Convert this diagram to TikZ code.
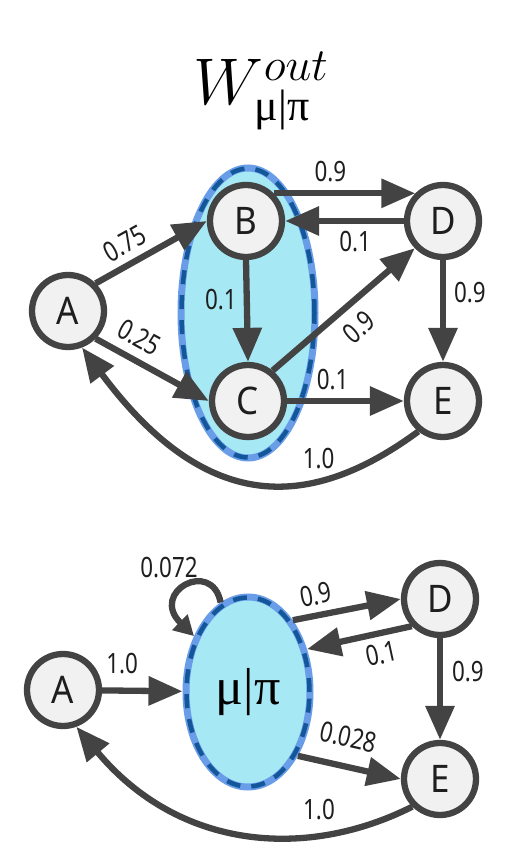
\RequirePackage{fix-cm}
\documentclass[tikz,border=0pt]{standalone}
\usepackage{fontspec}
\setmainfont[FakeStretch=0.92]{Noto Sans}
\newfontfamily\lblfont[FakeStretch=0.8]{Noto Sans}
\newfontfamily\serifgreek{Liberation Serif}
\usetikzlibrary{arrows.meta,shapes.geometric}
\definecolor{edgegray}{HTML}{434343}
\definecolor{nodefill}{HTML}{F1F1F1}
\definecolor{cyanfill}{HTML}{A6E8F4}
\definecolor{lightblue}{HTML}{6A9DE8}
\definecolor{darkblue}{HTML}{13579A}
\definecolor{txt}{HTML}{1E1E1E}
\begin{document}
\begin{tikzpicture}[x=1pt,y=1pt,
  state/.style={circle, draw=edgegray, line width=6.3pt, fill=nodefill,
    minimum size=72pt, inner sep=0pt, text=txt,
    font=\fontsize{38}{38}\selectfont},
  edge/.style={draw=edgegray, line width=6.3pt,
    -{Triangle[length=34pt,width=28pt]}},
  loopedge/.style={draw=edgegray, line width=6.3pt,
    -{Triangle[length=20pt,width=21pt]}},
  lbl/.style={font=\lblfont\fontsize{28}{28}\selectfont, text=txt, inner sep=0pt},
  groupell/.style={ellipse, fill=cyanfill, draw=lightblue, line width=7pt,
    inner sep=0pt, text=black},
  darkdash/.style={draw=darkblue, line width=4.5pt, dash pattern=on 14pt off 11pt},
]
\useasboundingbox (0,0) rectangle (525,863);

% title
\node[font=\fontsize{66}{66}\selectfont, inner sep=0pt] (title) at (261,772)
  {$W^{out}_{\mbox{\fontsize{44}{44}\selectfont\serifgreek μ|π}}$};

% ---------- top graph ----------
\node[groupell, minimum width=134pt, minimum height=290pt] (G) at (248,550) {};
\draw[darkdash] (G.center) ellipse [x radius=66.5pt, y radius=144.5pt];

\node[state] (A) at (68,552) {A};
\node[state] (B) at (246,642) {B};
\node[state] (C) at (248,462) {C};
\node[state] (D) at (443,642) {D};
\node[state] (E) at (443,462) {E};

\draw[edge] (A.45) -- node[lbl, sloped, above=7pt, pos=0.35] {0.75} (B.west);
\draw[edge] (A.-45) -- node[lbl, sloped, above=9pt, pos=0.29] {0.25} (C.west);
\draw[edge] (B.south) -- node[lbl, left=7pt, pos=0.39] {0.1} (C.north);
\draw[edge] (B.45) -- node[lbl, above=8.5pt, pos=0.4] {0.9} (D.135);
\draw[edge] (D.west) -- node[lbl, below=7pt, pos=0.41] {0.1} (B.east);
\draw[edge] (C.51) -- node[lbl, sloped, below=10pt, pos=0.5] {0.9} (D.224);
\draw[edge] (D.south) -- node[lbl, right=8pt, pos=0.32] {0.9} (E.north);
\draw[edge] (C.east) -- node[lbl, above=8pt, pos=0.39] {0.1} (E.west);
\draw[edge] (E.231) .. controls (305,348) and (203,353) ..
  node[lbl, above=8.5pt, pos=0.3] {1.0} (A.291);

% ---------- bottom graph ----------
\node[groupell, minimum width=124pt, minimum height=190pt,
  font=\fontsize{52}{52}\selectfont\serifgreek] (M) at (248,171) {μ|π};
\draw[darkdash] (M.center) ellipse [x radius=61.5pt, y radius=94.5pt];

\node[state] (A2) at (63,173) {A};
\node[state] (D2) at (440,264) {D};
\node[state] (E2) at (440,84) {E};

\draw[edge] (A2) -- node[lbl, above=14pt, pos=0.25] {1.0} (M);
\draw[edge] (M.58) -- node[lbl, sloped, above=7pt, pos=0.25] {0.9} (D2.180);
\draw[edge] (D2.224) -- node[lbl, sloped, below=7pt, pos=0.33] {0.1} (M.36);
\draw[edge] (D2.south) -- node[lbl, right=9pt, pos=0.33] {0.9} (E2.north);
\draw[edge] (M.-52) -- node[lbl, sloped, above=16pt, pos=0.43] {0.028} (E2.west);
\draw[edge] (E2.225) .. controls (305.8,2.6) and (178.7,13.4) ..
  node[lbl, above=12.5pt, pos=0.28] {1.0} (A2.290);
\draw[loopedge] (M.107) .. controls (212,305) and (149,271) .. (M.134);
\node[lbl] (l072) at (169,295) {0.072};
\end{tikzpicture}
\end{document}
